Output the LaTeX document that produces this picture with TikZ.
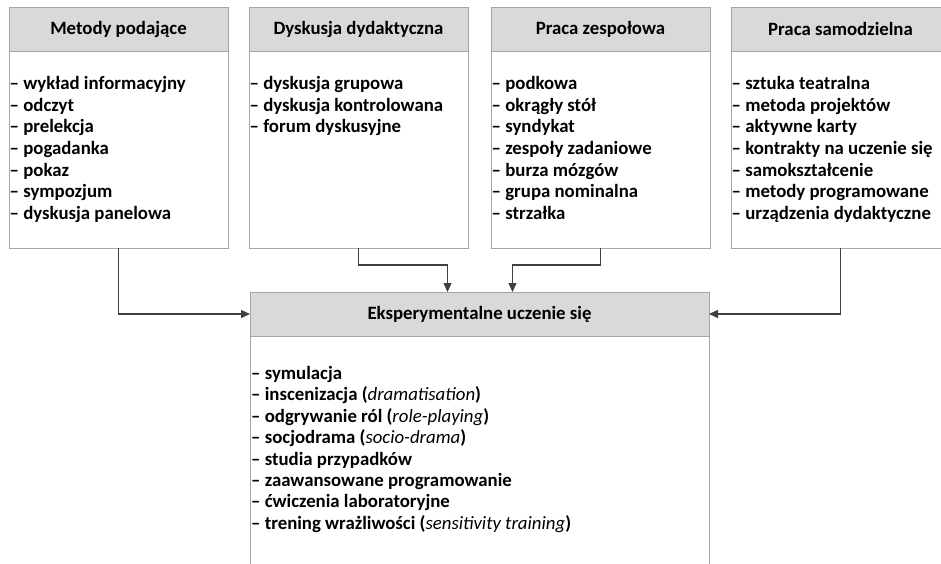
\documentclass[tikz,border=0pt]{standalone}
\usepackage{fontspec}
\setmainfont{Carlito}
\usetikzlibrary{arrows.meta}
\definecolor{bordergray}{HTML}{A6A6A6}
\definecolor{headgray}{HTML}{D9D9D9}
\definecolor{arrowgray}{HTML}{404040}
\newcommand{\ital}[1]{\textmd{\textit{#1}}}
\begin{document}
\begin{tikzpicture}[x=1pt,y=-1pt,
  box/.style={draw=bordergray, line width=0.8pt, fill=white, inner sep=0pt, outer sep=0pt, anchor=north west},
  head/.style={draw=bordergray, fill=headgray, line width=0.8pt, inner sep=0pt, outer sep=0pt, anchor=north west,
    font=\bfseries\fontsize{18.8}{22}\selectfont},
  items/.style={align=left, inner sep=0pt, anchor=north west, font=\bfseries\fontsize{18.8}{21.67}\selectfont},
  conn/.style={draw=arrowgray, line width=1.2pt, -{Triangle[length=9pt,width=8pt]}}]
\clip (0,0) rectangle (941,563);
\fill[white] (0,0) rectangle (941,563);
% top boxes
\node[box, minimum width=219pt, minimum height=241pt] (b1) at (9,7) {};
\node[head, minimum width=219pt, minimum height=44pt] (h1) at (9,7) {Metody podające};
\node[items] (t1) at (9.5,76) {– wykład informacyjny\\– odczyt\\– prelekcja\\– pogadanka\\– pokaz\\– sympozjum\\– dyskusja panelowa};

\node[box, minimum width=219pt, minimum height=241pt] (b2) at (249,7) {};
\node[head, minimum width=219pt, minimum height=44pt] (h2) at (249,7) {Dyskusja dydaktyczna};
\node[items] (t2) at (249.5,76) {– dyskusja grupowa\\– dyskusja kontrolowana\\– forum dyskusyjne};

\node[box, minimum width=219pt, minimum height=241pt] (b3) at (491,7) {};
\node[head, minimum width=219pt, minimum height=44pt] (h3) at (491,7) {Praca zespołowa};
\node[items] (t3) at (491.5,76) {– podkowa\\– okrągły stół\\– syndykat\\– zespoły zadaniowe\\– burza mózgów\\– grupa nominalna\\– strzałka};

\node[box, minimum width=219pt, minimum height=241pt] (b4) at (731,7) {};
\node[head, minimum width=219pt, minimum height=44pt] (h4) at (731,7) {Praca samodzielna};
\node[items] (t4) at (731.5,76) {– sztuka teatralna\\– metoda projektów\\– aktywne karty\\– kontrakty na uczenie się\\– samokształcenie\\– metody programowane\\– urządzenia dydaktyczne};

% bottom box
\node[box, minimum width=459pt, minimum height=300pt] (e) at (250,292) {};
\node[head, minimum width=459pt, minimum height=44pt] (eh) at (250,292) {Eksperymentalne uczenie się};
\node[items, font=\bfseries\fontsize{18.8}{21.4}\selectfont] (te) at (251,366) {– symulacja\\– inscenizacja (\ital{dramatisation})\\– odgrywanie ról (\ital{role-playing})\\– socjodrama (\ital{socio-drama})\\– studia przypadków\\– zaawansowane programowanie\\– ćwiczenia laboratoryjne\\– trening wrażliwości (\ital{sensitivity training})};

% connectors
\draw[conn] (b1.south) |- (eh.west);
\draw[conn] (b4.south) |- (eh.east);
\draw[conn] (b2.south) -- ++(0,17) -| ([xshift=-32pt]eh.north);
\draw[conn] (b3.south) -- ++(0,17) -| ([xshift=33pt]eh.north);
\end{tikzpicture}
\end{document}
